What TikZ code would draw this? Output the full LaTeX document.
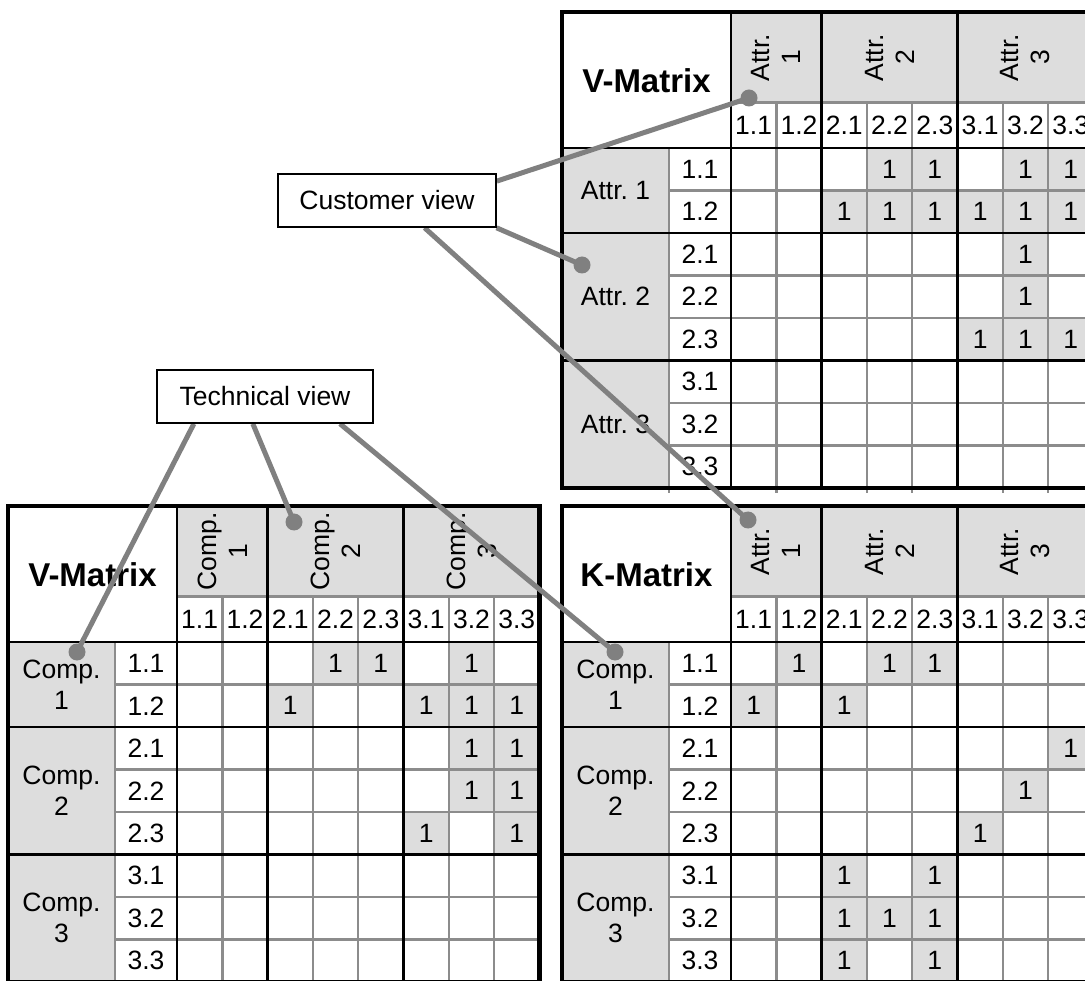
\documentclass[tikz,border=0pt]{standalone}
\usepackage{fontspec}
\setmainfont{Liberation Sans}
\usetikzlibrary{calc}

\definecolor{cellgray}{RGB}{221,221,221}
\definecolor{rulegray}{RGB}{140,140,140}
\definecolor{linkgray}{RGB}{128,128,128}

\pgfdeclarelayer{front}
\pgfsetlayers{main,front}

\tikzset{
  cellfont/.style={font=\fontsize{26.5}{31}\selectfont, inner sep=0pt},
  titlefont/.style={font=\bfseries\fontsize{33}{35}\selectfont, inner sep=0pt},
  fine/.style={draw=rulegray, line width=2.4pt},
  major/.style={draw=black, line width=2.6pt},
  frame/.style={draw=black, line width=4.5pt},
  viewbox/.style={draw=black, line width=1.6pt, fill=white,
    font=\fontsize{26.5}{29}\selectfont, inner sep=0pt},
  link/.style={draw=linkgray, line width=5pt},
  linkdot/.style={circle, fill=linkgray, minimum size=17pt, inner sep=0pt},
}

% One matrix: #1 name, #2/#3 top-left corner, #4 title,
% #5 column group word, #6 row group label prefix, #7 filled cells (row/col)
\newcommand\drawmat[7]{%
\begin{scope}[shift={(#2,#3)}]
  \def\cw{45.3}\def\rh{42.5}
  % shaded cells
  \fill[cellgray] (169,0) rectangle (169+8*\cw,90.5);
  \fill[cellgray] (0,136) rectangle (107,136+8*\rh);
  \foreach \r/\c in {#7} {
    \fill[cellgray] (169+\c*\cw-\cw,136+\r*\rh-\rh) rectangle ++(\cw,\rh);
    \node[cellfont] (#1-v\r-\c) at (169+\c*\cw-0.5*\cw,136+\r*\rh-0.5*\rh) {1};
  }
  % fine rules
  \draw[fine] (169,90.5) -- (169+8*\cw,90.5);
  \foreach \j in {1,3,4,6,7}
    \draw[fine] (169+\j*\cw,90.5) -- (169+\j*\cw,136+8*\rh+5);
  \foreach \i in {1,3,4,6,7}
    \draw[fine] (107,136+\i*\rh) -- (169+8*\cw,136+\i*\rh);
  \draw[fine] (107,136) -- (107,136+8*\rh+5);
  % group rules
  \foreach \j in {0,2,5}
    \draw[major] (169+\j*\cw,0) -- (169+\j*\cw,136+8*\rh);
  \foreach \i in {0,2,5}
    \draw[major] (0,136+\i*\rh) -- (169+8*\cw,136+\i*\rh);
  \draw[frame] (0,0) rectangle (169+8*\cw,136+8*\rh);
  % texts
  \node[titlefont] (#1-title) at (84.5,69) {#4};
  \foreach \g/\m in {1/1,2/3.5,3/6.5} {
    \node[cellfont, rotate=90, align=center] (#1-cg\g) at (169+\m*\cw,45.5) {#5\\\g};
    \node[cellfont, align=center] (#1-rg\g) at (53.5,136+\m*\rh) {#6\g};
  }
  \foreach \s [count=\k] in {1.1,1.2,2.1,2.2,2.3,3.1,3.2,3.3} {
    \node[cellfont] (#1-cs\k) at (169+\k*\cw-0.5*\cw,113.25) {\s};
    \node[cellfont] (#1-rs\k) at (138,136+\k*\rh-0.5*\rh) {\s};
  }
\end{scope}}

\begin{document}
\begin{tikzpicture}[x=1pt,y=-1pt]
  \useasboundingbox (0,0) rectangle (1085,981);
  \clip (0,0) rectangle (1085,981);
  \fill[white] (0,0) rectangle (1085,981);

  % customer view: attributes against attributes
  \drawmat{va}{562}{12}{V-Matrix}{Attr.}{Attr.~}{%
    1/4,1/5,1/7,1/8,2/3,2/4,2/5,2/6,2/7,2/8,3/7,4/7,5/6,5/7,5/8}
  % technical view: components against components
  \drawmat{vc}{8}{506}{V-Matrix}{Comp.}{Comp.\\}{%
    1/4,1/5,1/7,2/3,2/6,2/7,2/8,3/7,3/8,4/7,4/8,5/6,5/8}
  % components against attributes
  \drawmat{km}{562}{506}{K-Matrix}{Attr.}{Comp.\\}{%
    1/2,1/4,1/5,2/1,2/3,3/8,4/7,5/6,6/3,6/5,7/3,7/4,7/5,8/3,8/5}

  \begin{pgfonlayer}{front}
    \node[viewbox, minimum width=218pt, minimum height=53pt] (cv) at (387,200.5) {Customer view};
    \node[viewbox, minimum width=216pt, minimum height=53pt] (tv) at (265,396.5) {Technical view};
    \node[linkdot] (da1) at (749,98) {};
    \node[linkdot] (da2) at (582,265) {};
    \node[linkdot] (dk1) at (748,520) {};
    \node[linkdot] (dc1) at (77,652) {};
    \node[linkdot] (dc2) at (294,522) {};
    \node[linkdot] (dk2) at (615,652) {};
  \end{pgfonlayer}

  \draw[link] (cv.10) -- (da1.center);
  \draw[link] (cv.-14.4) -- (da2.center);
  \draw[link] (cv.-36.4) -- (dk1.center);
  \draw[link] (tv.201.3) -- (dc1.center);
  \draw[link] (tv.-114.4) -- (dc2.center);
  \draw[link] (tv.-20.7) -- (dk2.center);
\end{tikzpicture}
\end{document}
